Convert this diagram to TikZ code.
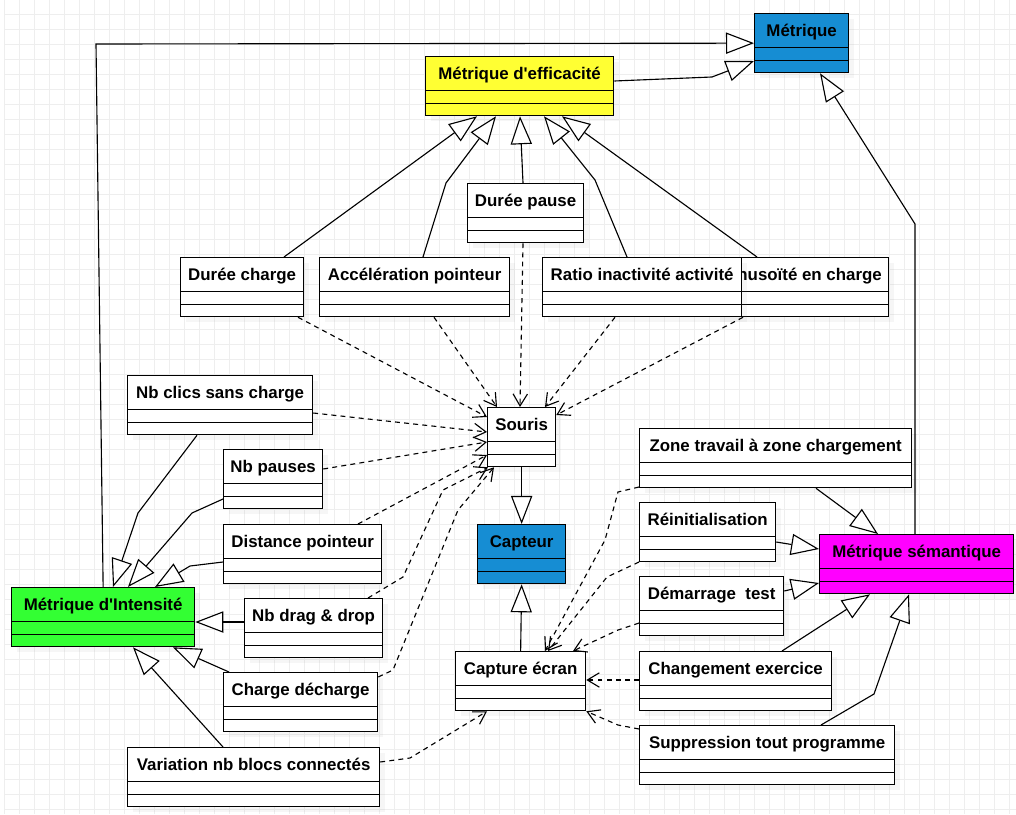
\documentclass[tikz,border=0pt]{standalone}
\usepackage{fontspec}
\setmainfont{Liberation Sans}[Ligatures=TeXOff]
\usetikzlibrary{arrows.meta,shadows}

\definecolor{metblue}{HTML}{168DD3}
\definecolor{metyellow}{HTML}{FFFF33}
\definecolor{metgreen}{HTML}{33FF33}
\definecolor{metmagenta}{HTML}{FF00FF}
\definecolor{gridgray}{HTML}{EEEEEE}

\begin{document}
\begin{tikzpicture}[x=0.025cm, y=-0.025cm,
    font=\fontsize{12}{14}\selectfont\bfseries,
    gridline/.style={draw=gridgray, line width=0.6pt},
    classbox/.style={draw, line width=0.9pt, inner sep=0pt, anchor=north west,
        text height=0.575cm, text depth=0.9cm,
        drop shadow={shadow xshift=0.13cm, shadow yshift=-0.13cm, opacity=0.07},
        path picture={
            \draw[line width=0.9pt] ([yshift=0.625cm]path picture bounding box.south west)
                -- ([yshift=0.625cm]path picture bounding box.south east);
            \draw[line width=0.9pt] ([yshift=0.3cm]path picture bounding box.south west)
                -- ([yshift=0.3cm]path picture bounding box.south east);
        }},
    gen/.style={draw, line width=0.8pt, -{Triangle[length=0.7cm, width=0.53cm, fill=white]}},
    dep/.style={draw, line width=0.8pt, dash pattern=on 3.5pt off 3pt,
        -{Straight Barb[length=0.3cm, width=0.36cm]}}]
    \useasboundingbox (0,0) rectangle (1016,814);
    % the grid
    \fill[white] (0,0) rectangle (1016,814);
    \foreach \gx in {4,19,...,1016} {
        \draw[gridline] (\gx,0) -- (\gx,814);
    };
    \foreach \gy in {14,29,...,814} {
        \draw[gridline] (4,\gy) -- (1016,\gy);
    };

    % the classes
    \foreach \n/\x/\y/\w/\c/\t in {
        metrique/754/13/94/metblue/{Métrique},
        effic/425/56/188/metyellow/{Métrique d'efficacité},
        pause/467/183/116/white/{Durée pause},
        dcharge/180/257/123/white/{Durée charge},
        accel/319/257/190/white/{Accélération pointeur},
        sinus/714/257/174/white/{Sinusoïté en charge},
        ratio/542/257/199/white/{Ratio inactivité activité},
        clics/127/375/185/white/{Nb clics sans charge},
        npauses/223/449/99/white/{Nb pauses},
        dist/223/524/158/white/{Distance pointeur},
        drag/244/598/138/white/{Nb drag \& drop},
        chdech/223/672/154/white/{Charge décharge},
        variation/127/747/252/white/{Variation nb blocs connectés},
        intens/11/587/183/metgreen/{Métrique d'Intensité},
        souris/487/407/68/white/{Souris},
        capteur/477/524/88/metblue/{Capteur},
        capture/455/651/130/white/{Capture écran},
        zone/639/428/272/white/{Zone travail à zone chargement},
        reinit/639/502/136/white/{Réinitialisation},
        demar/639/576/144/white/{Démarrage\ \ test},
        chgt/639/651/192/white/{Changement exercice},
        suppr/639/725/255/white/{Suppression tout programme},
        seman/819/534/194/metmagenta/{Métrique sémantique}} {
        \node[classbox, fill=\c, minimum width=\w*0.025cm] (\n) at (\x,\y) {\t};
    };

    % generalisations
    \draw[gen] (intens.north) -- (96,44) -- (metrique.west);
    \draw[gen] (effic.east |- 0,81) -- (712,77) -- (metrique.west |- 0,61);
    \draw[gen] (seman.north -| 915,0) -- (915,224) -- (metrique.south -| 820,0);
    \draw[gen] (dcharge.north -| 284,0) -- (effic.south -| 477,0);
    \draw[gen] (accel.north -| 423,0) -- (446,183) -- (effic.south -| 496,0);
    \draw[gen] (pause.north -| 523,0) -- (effic.south -| 520,0);
    \draw[gen] (ratio.north -| 627,0) -- (595,180) -- (effic.south -| 544,0);
    \draw[gen] (sinus.north -| 757,0) -- (effic.south -| 562,0);
    \draw[gen] (clics.south -| 197,0) -- (138,513) -- (intens.north -| 113,0);
    \draw[gen] (npauses.west |- 0,499) -- (192,513) -- (intens.north -| 128,0);
    \draw[gen] (dist.west |- 0,562) -- (190,566) -- (intens.north -| 155,0);
    \draw[gen] (drag.west |- 0,622) -- (intens.east |- 0,622);
    \draw[gen] (chdech.north -| 229,0) -- (intens.south -| 173,0);
    \draw[gen] (variation.north -| 223,0) -- (intens.south -| 133,0);
    \draw[gen] (souris) -- (capteur);
    \draw[gen] (capture.north) -- (capteur.south);
    \draw[gen] (zone.south -| 816,0) -- (seman.north -| 878,0);
    \draw[gen] (reinit.east |- 0,542) -- (seman.west |- 0,549);
    \draw[gen] (demar.east |- 0,591) -- (seman.west |- 0,583);
    \draw[gen] (chgt.north -| 782,0) -- (seman.south -| 870,0);
    \draw[gen] (suppr.north -| 821,0) -- (874,694) -- (seman.south -| 909,0);

    % dependencies
    \draw[dep] (dcharge.south -| 298,0) -- (souris.west |- 0,417);
    \draw[dep] (accel.south -| 434,0) -- (souris.north -| 497,0);
    \draw[dep] (pause.south -| 523,0) -- (souris.north -| 520,0);
    \draw[dep] (ratio.south -| 615,0) -- (souris.north -| 545,0);
    \draw[dep] (sinus.south -| 743,0) -- (souris.east |- 0,415);
    \draw[dep] (clics.east |- 0,413) -- (souris.west |- 0,432);
    \draw[dep] (npauses.east |- 0,469) -- (souris.west |- 0,442);
    \draw[dep] (dist.north -| 358,0) -- (souris.west |- 0,455);
    \draw[dep] (drag.north -| 368,0) -- (403,577) -- (443,490) -- (souris.south -| 488,0);
    \draw[dep] (chdech.east |- 0,677) -- (393,670) -- (458,510) -- (souris.south -| 494,0);
    \draw[dep] (zone.west |- 0,487) -- (618,492) -- (605,540) -- (capture.north -| 545,0);
    \draw[dep] (reinit.west |- 0,562) -- (607,577) -- (capture.north -| 548,0);
    \draw[dep] (demar.west |- 0,623) -- (618,630) -- (capture.north -| 573,0);
    \draw[dep] (chgt.west |- 0,680) -- (capture.east |- 0,680);
    \draw[dep] (suppr.west |- 0,729) -- (618,725) -- (capture.south east);
    \draw[dep] (variation.east |- 0,762) -- (410,758) -- (capture.south -| 487,0);
\end{tikzpicture}
\end{document}
